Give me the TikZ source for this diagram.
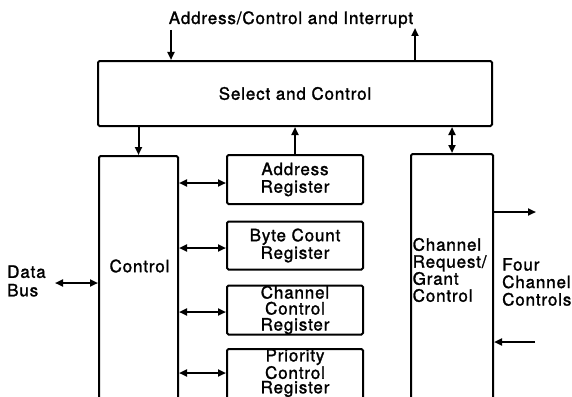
\documentclass[tikz,border=0pt]{standalone}
\usepackage{fontspec}
\setmainfont[LetterSpace=5,FakeBold=1.5]{TeX Gyre Heros}
\usetikzlibrary{arrows.meta}
\begin{document}
\begin{tikzpicture}[x=1pt,y=-1pt,
  box/.style={draw, line width=2pt, rounded corners=1.5pt, inner sep=0pt},
  lbl/.style={font=\fontsize{17}{17.5}\selectfont, inner sep=0pt, align=center},
  lblleft/.style={font=\fontsize{17}{17.5}\selectfont, inner sep=0pt, align=left},
  arr/.style={line width=2pt, -{Triangle[length=8pt,width=7pt]}},
  darr/.style={line width=2pt, {Triangle[length=8pt,width=7pt]}-{Triangle[length=8pt,width=7pt]}}]
\clip (0,0) rectangle (572,396);
\fill[white] (0,0) rectangle (572,396);

% title
\node[lbl, anchor=base] (title) at (291,24) {Address/Control and Interrupt};

% select and control
\node[box, lbl, minimum width=394pt, minimum height=65pt] (sel) at (295,93.5) {Select and Control};

% control block (continues below the picture)
\node[box, minimum width=79pt, minimum height=264pt] (ctrl) at (138.5,288) {};
\node[lbl] (ctrltxt) at (139.5,266) {Control};

% registers
\node[box, lbl, minimum width=136pt, minimum height=49pt] (areg) at (295,179.5) {Address\\Register};
\node[box, lbl, minimum width=136pt, minimum height=48pt] (breg) at (295,245.5) {Byte Count\\Register};
\node[box, lbl, font=\fontsize{17}{16}\selectfont, minimum width=136pt, minimum height=49pt] (creg) at (295,310) {Channel\\Control\\Register};
\node[box, minimum width=136pt, minimum height=80pt] (preg) at (295,389) {};
\node[lbl, font=\fontsize{17}{14.5}\selectfont] (ptxt) at (295,373) {Priority\\Control\\Register};

% channel request / grant control (continues below the picture)
\node[box, minimum width=82pt, minimum height=260pt] (crq) at (452,284) {};
\node[lblleft, font=\fontsize{17}{17}\selectfont, anchor=west] (crqtxt) at (412.5,270) {Channel\\Request/\\Grant\\Control};

% side labels
\node[lblleft, font=\fontsize{17}{18.5}\selectfont, anchor=west] (dbtxt) at (7,281) {Data\\Bus};
\node[lblleft, anchor=west] (fctxt) at (502,282) {Four\\Channel\\Controls};

% free ends
\coordinate (ain) at (171,30);
\coordinate (aout) at (415,28);
\coordinate (db) at (55,283);
\coordinate (fo) at (536,212);
\coordinate (fi) at (535,342);

% connectors
\draw[arr] (ain) -- (ain |- sel.north);
\draw[arr] (aout |- sel.north) -- (aout);
\draw[arr] (sel.south -| ctrl.north) -- (ctrl.north);
\draw[arr] (areg.north) -- (areg.north |- sel.south);
\draw[darr] (crq.north) -- (crq.north |- sel.south);

\draw[darr] (ctrl.east |- 0,183) -- (areg.west |- 0,183);
\draw[darr] (ctrl.east |- 0,248) -- (breg.west |- 0,248);
\draw[darr] (ctrl.east |- 0,312) -- (creg.west |- 0,312);
\draw[darr] (ctrl.east |- ptxt) -- (preg.west |- ptxt);

\draw[darr] (db) -- (db -| ctrl.west);
\draw[arr] (fo -| crq.east) -- (fo);
\draw[arr] (fi) -- (fi -| crq.east);
\end{tikzpicture}
\end{document}
